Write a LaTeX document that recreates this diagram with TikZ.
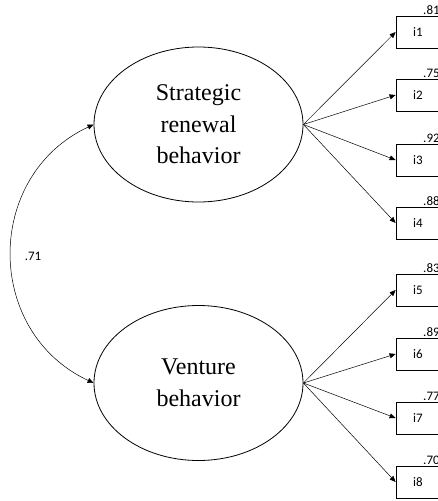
\documentclass[tikz,border=0pt]{standalone}
\usepackage{fontspec}
\setmainfont{Liberation Serif}
\newfontfamily\calibri{Carlito}
\usetikzlibrary{arrows.meta}
\usetikzlibrary{shapes.geometric}
\usetikzlibrary{positioning}
\begin{document}
\begin{tikzpicture}[x=1pt, y=1pt, latent/.style={draw, ellipse, line width=.8pt, minimum width=209pt, minimum height=155pt, inner sep=0pt, align=center, font=\fontsize{24}{31.5}\selectfont}, ind/.style={draw, line width=.8pt, minimum width=44pt, minimum height=32pt, inner sep=0pt, font=\calibri\fontsize{13}{15}\selectfont}, coef/.style={inner sep=1pt, font=\calibri\fontsize{13}{15}\selectfont}, arr/.style={-{Triangle[length=6pt, width=5pt]}, line width=.5pt}]
\useasboundingbox (0,0) rectangle (438,-501);
\node[latent] (s) at (198.5,-124.5) {Strategic\\renewal\\behavior};
\node[latent] (v) at (198.5,-383) {Venture\\behavior};
\foreach \i/\y/\l in {1/32/.81, 2/95/.75, 3/160/.92, 4/223/.88, 5/290/.83, 6/354/.89, 7/418/.77, 8/482/.70}{
\node[ind] (i\i) at (418,-\y) {i\i};
\node[coef, anchor=south east, inner sep=.5pt] (r\i) at (i\i.north east) {\l};}
\foreach \i in {1, 2, 3, 4}{
\draw[arr] (s.east) -- (i\i.west);}
\foreach \i in {5, 6, 7, 8}{
\draw[arr] (v.east) -- (i\i.west);}
\draw[arr, {Triangle[length=6pt, width=5pt]}-{Triangle[length=6pt, width=5pt]}] (s.west) to[out=205, in=155, looseness=1.2] (v.west);
\node[coef] (c) at (33,-256) {.71};
\end{tikzpicture}
\end{document}
